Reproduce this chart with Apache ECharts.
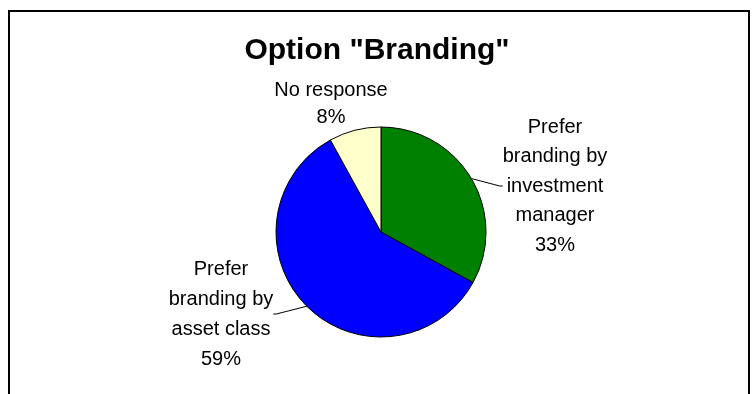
<!DOCTYPE html>
<html><head><meta charset="utf-8">
<script src="https://cdn.jsdelivr.net/npm/echarts@6/dist/echarts.min.js"></script>
<style>html,body{margin:0;padding:0;background:#fff}#c{width:754px;height:394px}</style>
</head><body><div id="c"></div>
<script>
// ---- data ----
const chartTitle = 'Option "Branding"';
const categories = ['Prefer\nbranding by\ninvestment\nmanager', 'Prefer\nbranding by\nasset class', 'No response'];
const values = [33, 59, 8];
const sliceColors = ['#008000', '#0000ff', '#ffffcc'];

// ---- layout (label block centres, leader visibility) ----
const labelCentres = [[555, 186], [221, 314], [331, 104]];
const showLeader = [true, true, false];
const labelLineHeights = [29.5, 30, 27];

const FONT = "'Liberation Sans', Arial, sans-serif";

const chart = echarts.init(document.getElementById('c'), null, {renderer: 'canvas'});
chart.setOption({
  backgroundColor: '#ffffff',
  animation: false,
  title: {
    text: chartTitle,
    left: 'center',
    top: 31,
    textStyle: {fontFamily: FONT, fontSize: 30, fontWeight: 'bold', color: '#000'}
  },
  graphic: [{
    type: 'rect',
    shape: {x: 9, y: 11, width: 740, height: 400},
    style: {fill: 'none', stroke: '#000', lineWidth: 2},
    silent: true
  }],
  series: [{
    type: 'pie',
    center: [381, 232],
    radius: [0, 105],
    startAngle: 90,
    clockwise: true,
    avoidLabelOverlap: false,
    itemStyle: {borderColor: '#000', borderWidth: 1},
    label: {
      show: true,
      position: 'outside',
      fontFamily: FONT,
      fontSize: 20,
      color: '#000',
      formatter: p => p.name + '\n' + Math.round(p.percent) + '%'
    },
    labelLine: {show: true, length: 10, length2: 3, smooth: false,
      lineStyle: {color: '#000', width: 1}},
    labelLayout: function (params) {
      const c = labelCentres[params.dataIndex];
      return {x: c[0], y: c[1], align: 'center', verticalAlign: 'middle'};
    },
    emphasis: {disabled: true},
    data: categories.map((name, i) => ({
      name: name,
      value: values[i],
      itemStyle: {color: sliceColors[i]},
      label: {lineHeight: labelLineHeights[i]},
      labelLine: {show: showLeader[i]}
    }))
  }]
});
</script>
</body></html>
